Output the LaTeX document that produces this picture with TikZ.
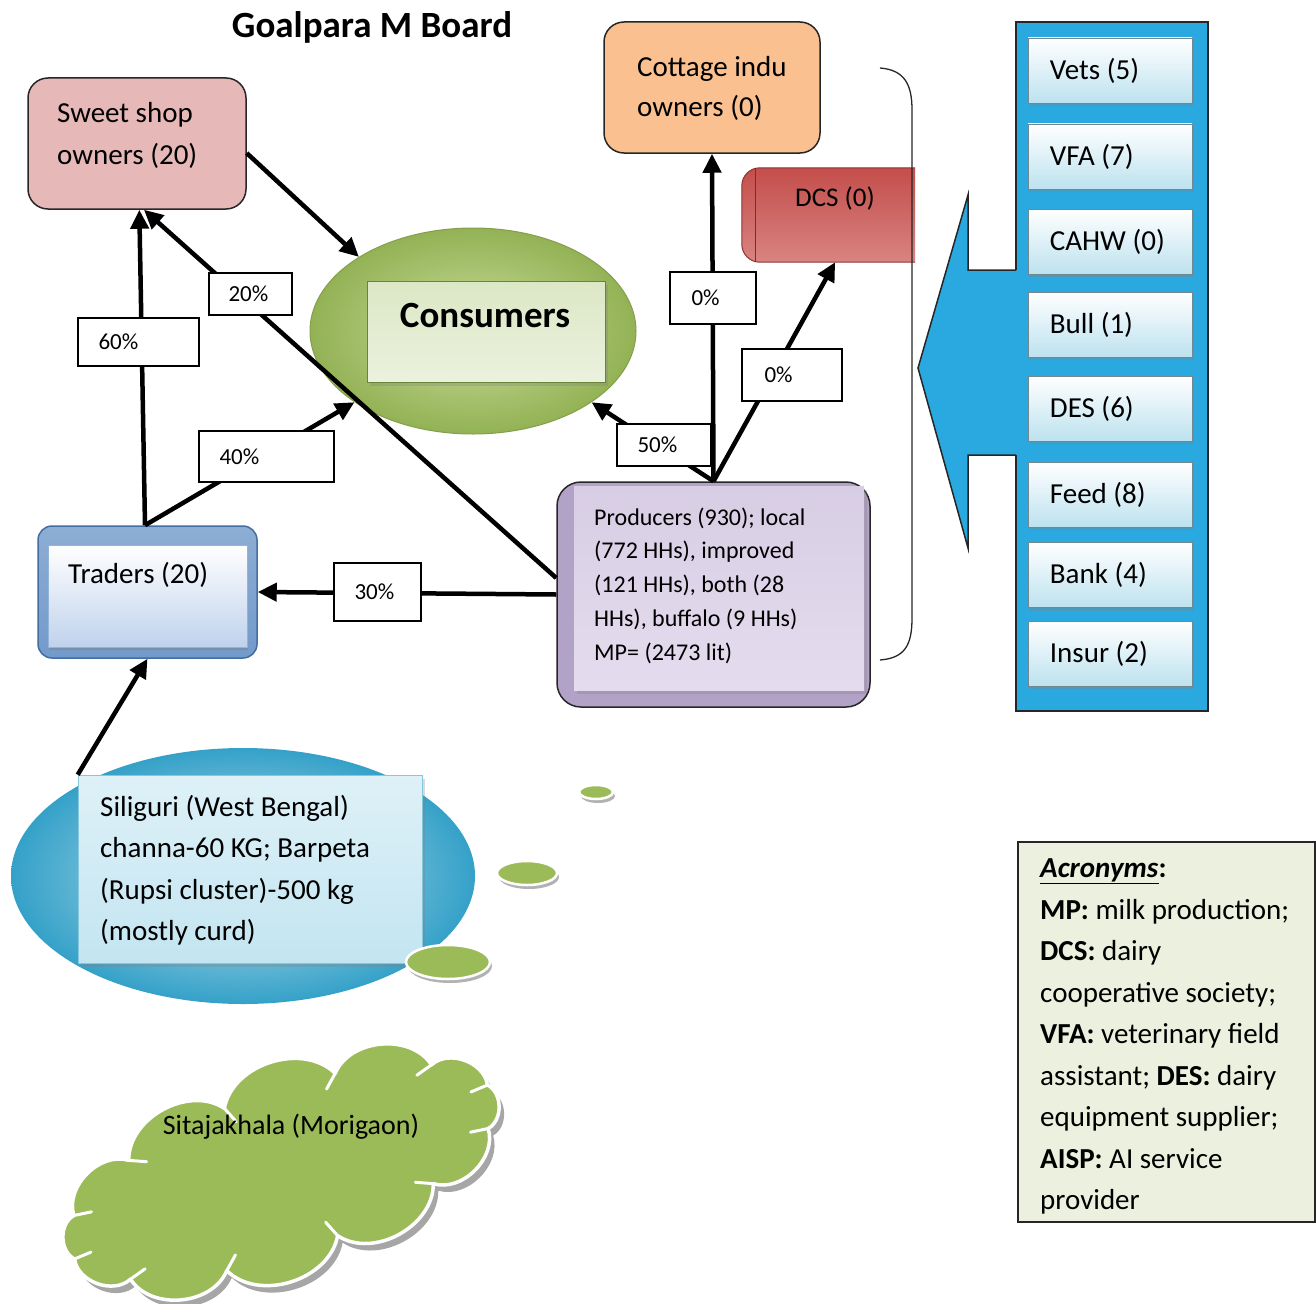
\documentclass[tikz,border=0pt]{standalone}
\usepackage{fontspec}
\setmainfont{Carlito}
\usetikzlibrary{arrows.meta,shapes.geometric,shadows,calc}

\definecolor{sweetpink}{HTML}{E6B9B8}
\definecolor{cottageorange}{HTML}{FAC090}
\definecolor{dcsred}{HTML}{C44E4B}
\definecolor{dcslight}{HTML}{D98482}
\definecolor{leafgreen}{HTML}{9BBB59}
\definecolor{leaflight}{HTML}{C9DD9C}
\definecolor{tradeblue}{HTML}{4F81BD}
\definecolor{tradelight}{HTML}{BFD2EC}
\definecolor{lavender}{HTML}{B3A2C7}
\definecolor{lavlight}{HTML}{E4DCEE}
\definecolor{skyblue}{HTML}{2AA9E0}
\definecolor{paleblue}{HTML}{BDE2EF}
\definecolor{tealblue}{HTML}{35A1C8}
\definecolor{tealpale}{HTML}{C3E5F1}
\definecolor{notegreen}{HTML}{EBF1DE}
\definecolor{edge}{HTML}{262626}

\begin{document}
\begin{tikzpicture}[x=1pt,y=-1pt,
  every node/.style={inner sep=0pt},
  txt/.style={font=\fontsize{29}{41.5}\selectfont, align=left, anchor=west, text=black},
  box/.style={draw=edge, line width=1.5pt, rounded corners=20pt},
  flow/.style={line width=4.5pt, -{Triangle[length=19pt,width=18pt]}},
  pctbox/.style={draw=black, line width=1.3pt, fill=white},
  pcttxt/.style={font=\fontsize{23}{28}\selectfont, anchor=west},
  tile/.style={minimum width=164pt, minimum height=65pt,
    top color=white, bottom color=paleblue, draw=paleblue!60!black, line width=0.6pt,
    drop shadow={shadow xshift=1.5pt, shadow yshift=-3pt, opacity=0.35}},
  softshadow/.style={drop shadow={shadow xshift=3pt, shadow yshift=-4pt, opacity=0.3}},
  puff/.style={bend right=62},
]
\useasboundingbox (0,0) rectangle (1316,1303);

% title
\node[font=\fontsize{37}{40}\selectfont\bfseries] (title) at (372,27) {Goalpara M Board};

% market actors
\node[box, fill=sweetpink, minimum width=218pt, minimum height=131pt] (sweet) at (137,143.5) {};
\node[txt] (sweettxt) at (57,135.5) {Sweet shop\\owners (20)};

\node[box, fill=cottageorange, minimum width=216pt, minimum height=131pt] (cottage) at (712,87.5) {};
\node[txt, font=\fontsize{29}{40}\selectfont] (cottagetxt) at (637,88) {Cottage indu\\owners (0)};

% dairy cooperative society tab
\path node[minimum width=173pt, minimum height=94pt] (dcs) at (828.5,215) {};
\draw[top color=dcsred, bottom color=dcslight, middle color=dcsred!85!white, draw=dcsred!70!black,
  line width=1pt, rounded corners=18pt]
  (dcs.north east) -- (dcs.north west) -- (dcs.south west) -- (dcs.south east);
\draw[dcsred!60!black, line width=1pt] ([xshift=14pt]dcs.north west) -- ([xshift=14pt]dcs.south west);
\node[font=\fontsize{27}{30}\selectfont] (dcstxt) at (835,198) {DCS (0)};

% consumers
\node[ellipse, minimum width=326pt, minimum height=206pt, shading=radial,
  inner color=leaflight, outer color=leafgreen!95!black, draw=leafgreen!85!black, line width=1pt] (cons) at (473,331) {};
\node[minimum width=238pt, minimum height=101pt, top color=leafgreen!35!white, bottom color=leafgreen!20!white,
  draw=leafgreen!70!black, line width=0.6pt, softshadow] (consbox) at (486,331.5) {};
\node[font=\fontsize{37}{40}\selectfont\bfseries] (constxt) at (485,316) {Consumers};

% traders
\node[minimum width=219pt, minimum height=132pt, rounded corners=14pt, draw=tradeblue!85!black,
  line width=1.5pt, top color=tradeblue!65!white, bottom color=tradeblue!80!white] (traders) at (147.5,592) {};
\node[minimum width=199pt, minimum height=102pt, top color=white, bottom color=tradelight,
  draw=tradeblue!60!white, line width=0.6pt,
  drop shadow={shadow xshift=1pt, shadow yshift=-3pt, opacity=0.45}] (tradpanel) at (147.5,596) {};
\node[txt] (tradtxt) at (68,575) {Traders (20)};

% producers
\node[box, rounded corners=24pt, fill=lavender, minimum width=313pt, minimum height=225pt] (prod) at (713.5,594.5) {};
\node[minimum width=290pt, minimum height=204pt, top color=lavlight!75!lavender, bottom color=lavlight,
  softshadow] (prodpanel) at (719,588) {};
\node[txt, font=\fontsize{24}{33.75}\selectfont] (prodtxt) at (594,585.5)
  {Producers (930); local\\(772 HHs), improved\\(121 HHs), both (28\\HHs), buffalo (9 HHs)\\MP= (2473 lit)};

% bracket grouping the producer side
\draw[edge, line width=1.3pt] (880,68) .. controls (905,70) and (912,85) .. (912,110) -- (912,618)
  .. controls (912,645) and (905,658) .. (880,660);

% service providers panel with its arrow
\node[draw=edge, line width=1.5pt, fill=skyblue, minimum width=192pt, minimum height=689pt] (panel) at (1112,366.5) {};
\fill[skyblue] (918,368) -- (968,195) -- (968,270) -- (1019,270) -- (1019,455) -- (968,455) -- (968,548) -- cycle;
\draw[edge, line width=1.5pt, line join=miter] (1016,270) -- (968,270) -- (968,195) -- (918,368)
  -- (968,548) -- (968,455) -- (1016,455);

\node[tile] (vets) at (1110,70.5) {};
\node[tile] (vfa)  at (1110,156.5) {};
\node[tile] (cahw) at (1110,241.5) {};
\node[tile] (bull) at (1110,324.5) {};
\node[tile] (des)  at (1110,408.5) {};
\node[tile] (feed) at (1110,494.5) {};
\node[tile] (bank) at (1110,575) {};
\node[tile] (insur) at (1110,653.5) {};
\node[txt] (vetstxt) at ([xshift=22pt]vets.west) {Vets (5)};
\node[txt] (vfatxt) at ([xshift=22pt]vfa.west) {VFA (7)};
\node[txt] (cahwtxt) at ([xshift=22pt]cahw.west) {CAHW (0)};
\node[txt] (bulltxt) at ([xshift=22pt]bull.west) {Bull (1)};
\node[txt] (destxt) at ([xshift=22pt]des.west) {DES (6)};
\node[txt] (feedtxt) at ([xshift=22pt]feed.west) {Feed (8)};
\node[txt] (banktxt) at ([xshift=22pt]bank.west) {Bank (4)};
\node[txt] (insurtxt) at ([xshift=22pt]insur.west) {Insur (2)};

% source districts
\node[ellipse, minimum width=464pt, minimum height=256pt, shading=radial,
  inner color=tealpale, outer color=tealblue] (siliblob) at (243,876) {};
\node[minimum width=344pt, minimum height=188pt, top color=tealpale!55!white, bottom color=tealpale,
  draw=tealblue!60!white, line width=0.6pt, softshadow] (sili) at (250,869) {};
\node[txt] (silitxt) at (100,870) {Siliguri (West Bengal)\\channa-60 KG; Barpeta\\(Rupsi cluster)-500 kg\\(mostly curd)};

\foreach \cx/\cy/\rx/\ry in {596/792/17/7, 527/873/30/12, 448/962/42/17} {
  \fill[black!30] (\cx+2,\cy+4) ellipse [x radius=\rx, y radius=\ry];
  \draw[white, line width=2.5pt, fill=leafgreen] (\cx,\cy) ellipse [x radius=\rx, y radius=\ry];
}

% cloud: puffs strung along a tilted ellipse
\coordinate (cc) at (281,1172);
\foreach \i in {0,...,11} {
  \pgfmathsetmacro{\t}{\i*30+8}
  \coordinate (cl\i) at ({281 + 226*cos(\t)*cos(20) - 80*sin(\t)*sin(20)},
                         {1172 - (226*cos(\t)*sin(20) + 80*sin(\t)*cos(20))});
}
\begin{scope}[transform canvas={xshift=5pt, yshift=-7pt}]
\fill[black!35]
  (cl0) to[puff] (cl1) to[puff] (cl2) to[puff] (cl3) to[puff] (cl4) to[puff] (cl5) to[puff] (cl6)
  to[puff] (cl7) to[puff] (cl8) to[puff] (cl9) to[puff] (cl10) to[puff] (cl11) to[puff] (cl0) -- cycle;
\end{scope}
\draw[fill=leafgreen, draw=white, line width=3.5pt, line join=round]
  (cl0) to[puff] (cl1) to[puff] (cl2) to[puff] (cl3) to[puff] (cl4) to[puff] (cl5) to[puff] (cl6)
  to[puff] (cl7) to[puff] (cl8) to[puff] (cl9) to[puff] (cl10) to[puff] (cl11) to[puff] (cl0) -- cycle;
\foreach \i in {0,...,11} {
  \draw[white, line width=3pt, line cap=round] (cl\i) -- ($(cl\i)!18pt!(cc)$);
}
\node[font=\fontsize{28}{30}\selectfont] (cloudtxt) at (291,1127) {Sitajakhala (Morigaon)};

% flows
\coordinate (tradtop) at ([xshift=-2.5pt]traders.north);
\draw[flow] (sweet.-5) -- (cons.147);
\draw[flow] (tradtop) -- (sweet.-88);
\draw[flow] (tradtop) -- (cons.211);
\draw[flow] (prod.174) -- (sweet.-84);
\draw[flow] (prod.west) -- (traders.east);
\draw[flow] (prod.north) -- (cottage.south);
\draw[flow] (prod.north) -- (dcs.-82);
\draw[flow] (prod.north) -- (cons.-31);
\draw[flow] (sili.north west) -- (traders.south);

% shares
\node[pctbox, minimum width=121pt, minimum height=48pt] (p60) at (138.5,342) {};
\node[pcttxt] (t60) at ([xshift=21pt]p60.west) {60\%};
\node[pctbox, minimum width=83pt, minimum height=42pt] (p20) at (250.5,294) {};
\node[pcttxt] (t20) at ([xshift=20pt]p20.west) {20\%};
\node[pctbox, minimum width=135pt, minimum height=51pt] (p40) at (266.5,456.5) {};
\node[pcttxt] (t40) at ([xshift=21pt]p40.west) {40\%};
\node[pctbox, minimum width=87pt, minimum height=58pt] (p30) at (377.5,592) {};
\node[pcttxt] (t30) at ([xshift=21pt]p30.west) {30\%};
\node[pctbox, minimum width=94pt, minimum height=42pt] (p50) at (664,445) {};
\node[pcttxt] (t50) at ([xshift=21pt]p50.west) {50\%};
\node[pctbox, minimum width=86pt, minimum height=52pt] (p0a) at (713,298) {};
\node[pcttxt] (t0a) at ([xshift=22pt]p0a.west) {0\%};
\node[pctbox, minimum width=100pt, minimum height=52pt] (p0b) at (792,375) {};
\node[pcttxt] (t0b) at ([xshift=23pt]p0b.west) {0\%};

% acronyms
\node[draw=edge, line width=1.5pt, fill=notegreen, minimum width=297pt, minimum height=380pt] (notes) at (1166.5,1032) {};
\node[txt] (notestxt) at (1040,1036.5) {\underline{\textbf{\textit{Acronyms}}}\textbf{:}\\
  \textbf{MP:} milk production;\\
  \textbf{DCS:} dairy\\
  cooperative society;\\
  \textbf{VFA:} veterinary field\\
  assistant; \textbf{DES:} dairy\\
  equipment supplier;\\
  \textbf{AISP:} AI service\\
  provider};
\end{tikzpicture}
\end{document}
